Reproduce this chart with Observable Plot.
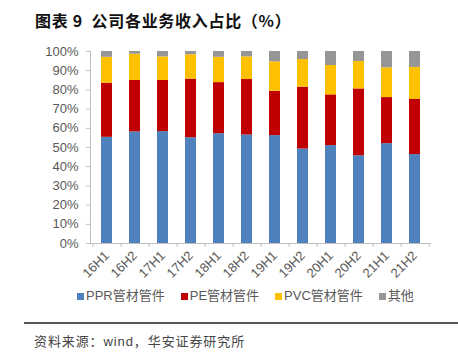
<!DOCTYPE html>
<html><head><meta charset="utf-8">
<script src="https://cdn.jsdelivr.net/npm/d3@7"></script>
<script src="https://cdn.jsdelivr.net/npm/@observablehq/plot@0.6"></script>
<style>
html,body{margin:0;padding:0;background:#fff;}
#wrap{position:relative;width:458px;height:355px;overflow:hidden;font-family:"Liberation Sans",Arial,sans-serif;}
#title{position:absolute;left:35px;top:9px;font-family:"Noto Sans CJK SC",sans-serif;font-weight:bold;font-size:16px;letter-spacing:0.7px;color:#111;line-height:22px;white-space:pre;}
.rule{position:absolute;left:24px;width:434px;height:2px;background:#555;}
#chart{position:absolute;left:0;top:40px;}
#legend{position:absolute;left:77px;top:288px;display:flex;gap:16px;font-size:13px;color:#595959;line-height:16px;font-family:"Liberation Sans","Noto Sans CJK SC",sans-serif;}
#legend .it{display:flex;align-items:center;}
#legend .sw{width:7px;height:7px;margin-right:2px;}
#caption{position:absolute;left:34px;top:333px;font-size:13px;letter-spacing:0.9px;color:#444;font-family:"Liberation Sans","Noto Sans CJK SC",sans-serif;line-height:18px;}
</style>
</head><body>
<div id="wrap">
<div id="title">图表 9  公司各业务收入占比（%）</div>
<div class="rule" style="top:42px"></div>
<div id="chart"></div>
<div id="legend"></div>
<div class="rule" style="top:322px"></div>
<div id="caption">资料来源：wind，华安证券研究所</div>
</div>
<script>
const categories = ["16H1","16H2","17H1","17H2","18H1","18H2","19H1","19H2","20H1","20H2","21H1","21H2"];
const seriesNames = ["PPR管材管件","PE管材管件","PVC管材管件","其他"];
const ppr   = [55.3, 58.1, 58.3, 55.1, 57.2, 56.5, 56.2, 49.2, 51.0, 45.7, 52.0, 46.3];
const pe    = [28.2, 26.8, 26.6, 30.5, 26.6, 28.9, 23.1, 32.2, 26.4, 34.8, 24.0, 28.7];
const pvc   = [13.5, 13.7, 12.3, 12.7, 13.2, 11.8, 15.3, 14.4, 15.3, 14.3, 15.5, 16.7];
const other = [ 3.0,  1.4,  2.8,  1.7,  3.0,  2.8,  5.4,  4.2,  7.3,  5.2,  8.5,  8.3];
const colors = ["#4f81bd","#c00000","#ffc000","#969696"];
const yTicks = [0,10,20,30,40,50,60,70,80,90,100];

const seriesValues = [ppr, pe, pvc, other];
const data = [];
seriesNames.forEach((s, si) => categories.forEach((c, ci) => data.push({cat: c, series: s, value: seriesValues[si][ci]})));

const W = 458, ML = 90, MR = 28;
const step = (W - ML - MR) / categories.length;
const axisColor = "#bfbfbf";

const chart = Plot.plot({
  width: W, height: 250,
  marginLeft: ML, marginRight: MR, marginTop: 11, marginBottom: 47,
  style: {fontFamily: "'Liberation Sans', Arial, sans-serif", fontSize: "13px", color: "#595959", background: "#fff"},
  x: {domain: categories, paddingInner: 0.61, paddingOuter: 0.305, label: null},
  y: {domain: [0, 100], label: null},
  color: {domain: seriesNames, range: colors},
  marks: [
    Plot.barY(data, {x: "cat", y: "value", fill: "series", order: seriesNames}),
    Plot.frame({anchor: "left", stroke: axisColor}),
    Plot.frame({anchor: "bottom", stroke: axisColor}),
    Plot.axisY({ticks: yTicks, tickFormat: d => d + "%", tickSize: 4, tickPadding: 8, stroke: axisColor, fill: "#595959"}),
    Plot.axisX({tickSize: 0, tickPadding: 10, tickRotate: -45, fill: "#595959"}),
    Plot.axisX({tickSize: 4, tickFormat: null, text: null, dx: step / 2, stroke: axisColor}),
    Plot.axisX({ticks: [categories[0]], tickSize: 4, tickFormat: null, text: null, dx: -step / 2, stroke: axisColor})
  ]
});
document.getElementById("chart").appendChild(chart);

const legend = document.getElementById("legend");
seriesNames.forEach((s, i) => {
  const it = document.createElement("div"); it.className = "it";
  const sw = document.createElement("span"); sw.className = "sw"; sw.style.background = colors[i];
  const tx = document.createElement("span"); tx.textContent = s;
  it.appendChild(sw); it.appendChild(tx); legend.appendChild(it);
});
</script>
</body></html>
